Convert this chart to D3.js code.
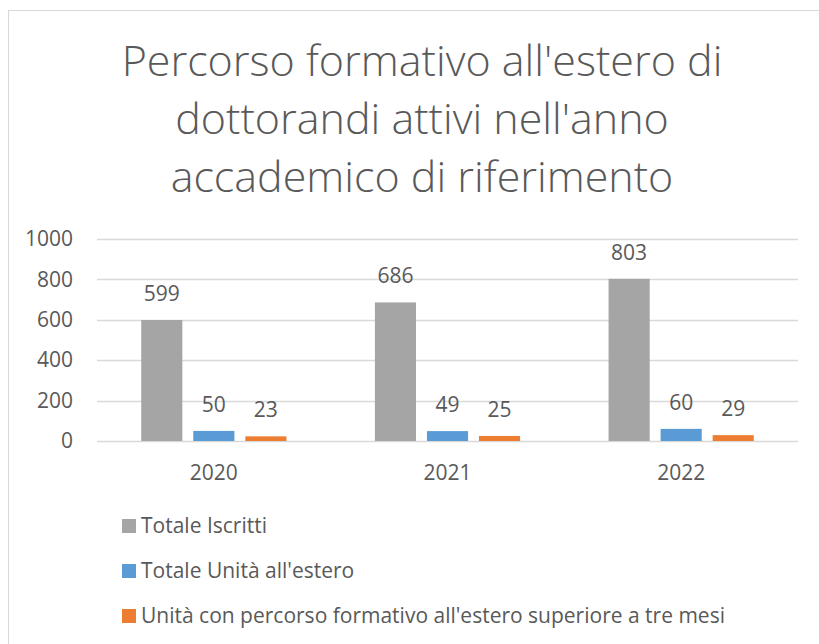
<!DOCTYPE html>
<html>
<head>
<meta charset="utf-8">
<script src="https://cdn.jsdelivr.net/npm/d3@7"></script>
<style>
  body { margin: 0; background: #fff; }
  text { font-family: "Open Sans", sans-serif; fill: #595959; }
</style>
</head>
<body>
<div id="chart"></div>
<script>
// data
var years = ["2020", "2021", "2022"];
var series = ["Totale Iscritti", "Totale Unità all'estero", "Unità con percorso formativo all'estero superiore a tre mesi"];
var totaleIscritti = [599, 686, 803];
var totaleEstero = [50, 49, 60];
var oltreTreMesi = [23, 25, 29];
var yTicks = [0, 200, 400, 600, 800, 1000];
var titleLines = ["Percorso formativo all'estero di", "dottorandi attivi nell'anno", "accademico di riferimento"];

var colors = ["#A5A5A5", "#5B9BD5", "#ED7D31"];
var values = [totaleIscritti, totaleEstero, oltreTreMesi];

var W = 819, H = 644;
var svg = d3.select("#chart").append("svg")
  .attr("width", W)
  .attr("height", H);

// chart border (only top/left visible in the crop)
svg.append("rect")
  .attr("x", 8.5).attr("y", 10.5)
  .attr("width", W + 20).attr("height", H + 20)
  .attr("fill", "none")
  .attr("stroke", "#D9D9D9");

// title
svg.append("g").selectAll("text")
  .data(titleLines)
  .enter().append("text")
  .attr("x", 422)
  .attr("y", function(d, i) { return 76 + i * 58; })
  .attr("text-anchor", "middle")
  .style("font-size", "43px")
  .style("font-weight", 300)
  .text(function(d) { return d; });

var plotL = 97, plotR = 798, plotT = 239, plotB = 441;

var x0 = d3.scaleBand().domain(years).range([plotL, plotR]);
var x1 = d3.scaleBand().domain(d3.range(3))
  .range([0, x0.bandwidth()])
  .paddingInner(0.21).paddingOuter(0.85);
var y = d3.scaleLinear().domain([0, 1000]).range([plotB, plotT]);

// gridlines
svg.append("g").selectAll("line")
  .data(yTicks)
  .enter().append("line")
  .attr("x1", plotL).attr("x2", plotR)
  .attr("y1", function(d) { return Math.round(y(d)) + 0.5; })
  .attr("y2", function(d) { return Math.round(y(d)) + 0.5; })
  .attr("stroke", "#D9D9D9")
  .attr("stroke-width", 1.5);

// y axis labels
var yAxis = svg.append("g")
  .attr("transform", "translate(" + plotL + ",0)")
  .call(d3.axisLeft(y).tickValues(yTicks).tickFormat(d3.format("d")).tickSize(0).tickPadding(24));
yAxis.select(".domain").remove();
yAxis.selectAll("text")
  .style("font-size", "21px")
  .style("fill", "#595959")
  .style("font-family", "'Open Sans', sans-serif");

// x axis labels
var xAxis = svg.append("g")
  .attr("transform", "translate(0," + plotB + ")")
  .call(d3.axisBottom(x0).tickSize(0).tickPadding(24));
xAxis.select(".domain").remove();
xAxis.selectAll("text")
  .style("font-size", "21px")
  .style("fill", "#595959")
  .style("font-family", "'Open Sans', sans-serif");

// bars
var groups = svg.append("g").selectAll("g")
  .data(years)
  .enter().append("g")
  .attr("transform", function(d) { return "translate(" + x0(d) + ",0)"; });

groups.selectAll("rect")
  .data(function(d, i) { return values.map(function(v, s) { return { s: s, v: v[i] }; }); })
  .enter().append("rect")
  .attr("x", function(d) { return x1(d.s); })
  .attr("width", x1.bandwidth())
  .attr("y", function(d) { return y(d.v); })
  .attr("height", function(d) { return plotB - y(d.v); })
  .attr("fill", function(d) { return colors[d.s]; });

groups.selectAll("text")
  .data(function(d, i) { return values.map(function(v, s) { return { s: s, v: v[i] }; }); })
  .enter().append("text")
  .attr("x", function(d) { return x1(d.s) + x1.bandwidth() / 2; })
  .attr("y", function(d) { return y(d.v) - 19; })
  .attr("text-anchor", "middle")
  .style("font-size", "21px")
  .text(function(d) { return d.v; });

// legend
var legend = svg.append("g").selectAll("g")
  .data(series)
  .enter().append("g")
  .attr("transform", function(d, i) { return "translate(122," + (519 + i * 45) + ")"; });

legend.append("rect")
  .attr("width", 14).attr("height", 14)
  .attr("fill", function(d, i) { return colors[i]; });

legend.append("text")
  .attr("x", 19)
  .attr("y", 14)
  .style("font-size", "21px")
  .text(function(d) { return d; });
</script>
</body>
</html>
